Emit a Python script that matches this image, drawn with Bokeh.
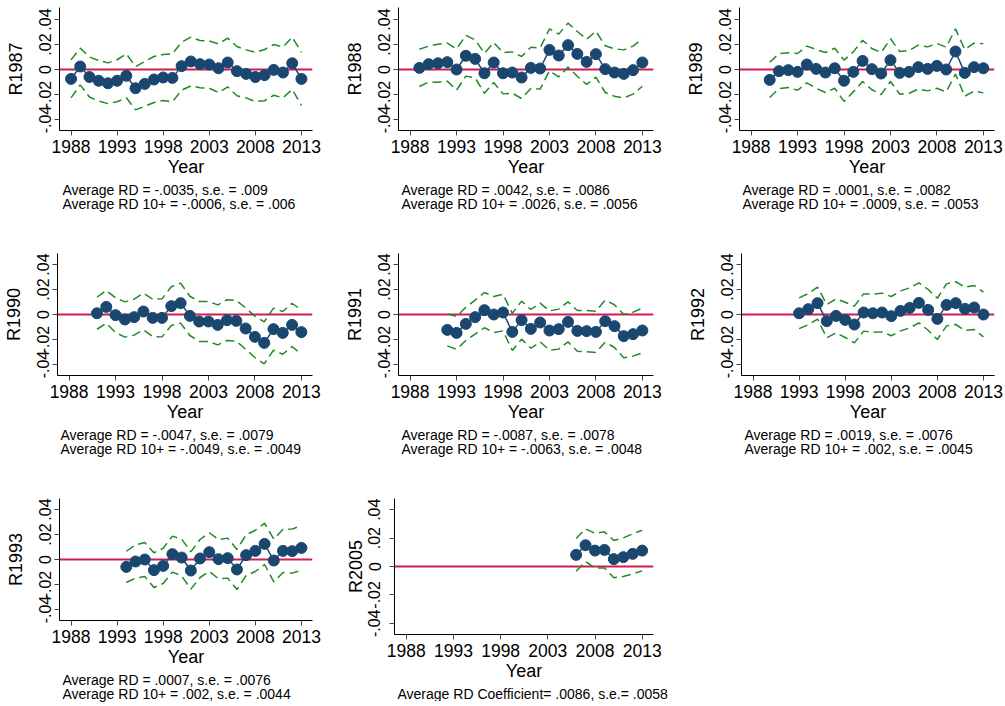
from bokeh.plotting import figure
from bokeh.models import Range1d, FixedTicker, Span, Title, Spacer
from bokeh.layouts import row, column
from bokeh.embed import file_html
from bokeh.resources import INLINE

# ---------------- data ----------------
x_ticks = [1988, 1993, 1998, 2003, 2008, 2013]
y_ticks = [-0.04, -0.02, 0.0, 0.02, 0.04]
y_tick_labels = {-0.04: "-.04", -0.02: "-.02", 0: "0", 0.02: ".02", 0.04: ".04"}

cohort_names = ["R1987", "R1988", "R1989", "R1990", "R1991", "R1992", "R1993", "R2005"]
first_years = [1988, 1989, 1990, 1991, 1992, 1993, 1994, 2006]

coef_r1987 = [-0.0075, 0.0024, -0.006, -0.009, -0.011, -0.009, -0.005, -0.015, -0.0115, -0.008,
              -0.0064, -0.0067, 0.0027, 0.0064, 0.0043, 0.004, 0.001, 0.0056, -0.0013, -0.0035,
              -0.006, -0.0045, -0.0003, -0.0024, 0.005, -0.0075]
ci_r1987 = [0.0152, 0.0147, 0.016, 0.0163, 0.0163, 0.0168, 0.0176, 0.0173, 0.0179, 0.0184,
            0.0184, 0.0192, 0.0192, 0.0195, 0.0189, 0.0189, 0.0195, 0.0195, 0.0197, 0.0192,
            0.0197, 0.0205, 0.0203, 0.0203, 0.0208, 0.0213]

coef_r1988 = [0.0013, 0.0043, 0.005, 0.0059, 0.0, 0.011, 0.0085, -0.003, 0.0056, -0.003,
              -0.0024, -0.0064, 0.0013, 0.0008, 0.0157, 0.0112, 0.0195, 0.0125, 0.0061, 0.0123,
              0.0003, -0.0024, -0.0035, -0.0005, 0.0056]
ci_r1988 = [0.0149, 0.0144, 0.0152, 0.0152, 0.0165, 0.0163, 0.0152, 0.016, 0.016, 0.0165,
            0.0165, 0.0168, 0.0165, 0.0165, 0.0168, 0.0171, 0.0176, 0.0179, 0.0181, 0.0184,
            0.0187, 0.019, 0.0192, 0.0192, 0.019]

coef_r1989 = [-0.0083, -0.0013, -0.0005, -0.0019, 0.004, 0.0005, -0.0024, 0.001, -0.009, -0.0019,
              0.0069, 0.0003, -0.0032, 0.0075, -0.0027, -0.0019, 0.0019, 0.0005, 0.0029, 0.0,
              0.0144, -0.0027, 0.0019, 0.001]
ci_r1989 = [0.0141, 0.0139, 0.0139, 0.0147, 0.0147, 0.0155, 0.016, 0.016, 0.0165, 0.016,
            0.0165, 0.0165, 0.0168, 0.0171, 0.0171, 0.0171, 0.0176, 0.0176, 0.0179, 0.0179,
            0.0181, 0.0187, 0.0192, 0.0197]

coef_r1990 = [0.001, 0.0061, -0.0005, -0.004, -0.0021, 0.0024, -0.0027, -0.0027, 0.0067, 0.0091,
              -0.0011, -0.0056, -0.0056, -0.0083, -0.0045, -0.0051, -0.0112, -0.0179, -0.0227, -0.0117,
              -0.0147, -0.0083, -0.0141]
ci_r1990 = [0.0128, 0.0131, 0.0139, 0.0141, 0.0144, 0.0147, 0.0149, 0.0152, 0.0155, 0.016,
            0.0157, 0.016, 0.016, 0.016, 0.0163, 0.0163, 0.0165, 0.0165, 0.0168, 0.0168,
            0.0171, 0.0173, 0.0176]

coef_r1991 = [-0.0123, -0.0147, -0.0075, -0.0021, 0.0035, 0.0, 0.0016, -0.0139, -0.0045, -0.0115,
              -0.0064, -0.0128, -0.0117, -0.0059, -0.0131, -0.0133, -0.0139, -0.0053, -0.0093, -0.0173,
              -0.0157, -0.0128]
ci_r1991 = [0.0128, 0.0131, 0.0133, 0.0136, 0.0141, 0.0144, 0.0147, 0.0149, 0.0152, 0.0155,
            0.0155, 0.0157, 0.016, 0.016, 0.0163, 0.0165, 0.0165, 0.0168, 0.0171, 0.0173,
            0.0176, 0.0179]

coef_r1992 = [0.001, 0.0043, 0.0091, -0.0053, -0.0011, -0.0043, -0.008, 0.0016, 0.001, 0.0016,
              -0.0013, 0.0029, 0.0053, 0.0093, 0.0037, -0.0035, 0.0077, 0.0091, 0.0045, 0.0056,
              0.0]
ci_r1992 = [0.0123, 0.0125, 0.0128, 0.0133, 0.0136, 0.0141, 0.0147, 0.0149, 0.0152, 0.0155,
            0.0157, 0.016, 0.016, 0.016, 0.0163, 0.0165, 0.0168, 0.0171, 0.0173, 0.0176,
            0.0179]

coef_r1993 = [-0.0059, -0.0016, 0.0, -0.0085, -0.0051, 0.0043, 0.0016, -0.0088, 0.0008, 0.0059,
              0.0003, 0.0011, -0.008, 0.0035, 0.0069, 0.0125, -0.0008, 0.0069, 0.0067, 0.0093]
ci_r1993 = [0.0125, 0.0133, 0.0136, 0.0139, 0.0141, 0.0144, 0.0147, 0.0149, 0.0152, 0.0155,
            0.0157, 0.016, 0.016, 0.0163, 0.0165, 0.0165, 0.0171, 0.0173, 0.0176, 0.0179]

coef_r2005 = [0.0082, 0.015, 0.0112, 0.0117, 0.0052, 0.0066, 0.0089, 0.0112]
ci_r2005 = [0.0115, 0.0115, 0.0122, 0.0127, 0.0131, 0.0136, 0.0141, 0.0143]

notes = [
    "Average RD = -.0035, s.e. = .009\nAverage RD 10+ = -.0006, s.e. = .006",
    "Average RD = .0042, s.e. = .0086\nAverage RD 10+ = .0026, s.e. = .0056",
    "Average RD = .0001, s.e. = .0082\nAverage RD 10+ = .0009, s.e. = .0053",
    "Average RD = -.0047, s.e. = .0079\nAverage RD 10+ = -.0049, s.e. = .0049",
    "Average RD = -.0087, s.e. = .0078\nAverage RD 10+ = -.0063, s.e. = .0048",
    "Average RD = .0019, s.e. = .0076\nAverage RD 10+ = .002, s.e. = .0045",
    "Average RD = .0007, s.e. = .0076\nAverage RD 10+ = .002, s.e. = .0044",
    "Average RD Coefficient= .0086, s.e.= .0058",
]

coefs = [coef_r1987, coef_r1988, coef_r1989, coef_r1990, coef_r1991, coef_r1992, coef_r1993, coef_r2005]
cis = [ci_r1987, ci_r1988, ci_r1989, ci_r1990, ci_r1991, ci_r1992, ci_r1993, ci_r2005]

# ---------------- style / layout ----------------
FONT = "Liberation Sans"
NAVY = "#1a476f"
GREEN = "#1f8b24"
RED = "#d01c50"

# (fig w, fig h, border left, border top, frame w, frame h, y min, y max, tick-label standoff, axis-label standoff)
geo = [
    (335, 240, 59, 7, 253, 123, -0.0488, 0.0496, 4, 10),
    (335, 240, 63, 7, 255, 123, -0.0488, 0.0496, 4, 10),
    (333, 240, 69, 7, 255, 123, -0.0488, 0.0496, 4, 10),
    (335, 240, 57, 13, 255, 122, -0.0488, 0.0488, 4, 10),
    (335, 240, 63, 13, 255, 122, -0.0488, 0.0488, 4, 10),
    (333, 240, 71, 13, 253, 122, -0.0488, 0.0488, 4, 10),
    (335, 224, 59, 18, 253, 122, -0.0488, 0.0488, 4, 10),
    (335, None, 59, 18, 259, 136, -0.0479, 0.0479, 9, 0),
]


def make_panel(i):
    W, H, bl, bt, fw, fh, ymin, ymax, tstand, lstand = geo[i]
    y0 = first_years[i]
    yrs = list(range(y0, y0 + len(coefs[i])))
    hi = [c + h for c, h in zip(coefs[i], cis[i])]
    lo = [c - h for c, h in zip(coefs[i], cis[i])]
    common = dict(output_backend="svg", toolbar_location=None,
                  x_range=Range1d(1986.75, 2014.2), y_range=Range1d(ymin, ymax),
                  min_border_left=bl, min_border_top=bt, min_border_right=W - bl - fw)
    if H is None:
        p = figure(frame_width=fw, frame_height=fh, min_border_bottom=0, **common)
    else:
        p = figure(width=W, height=H, min_border_bottom=H - bt - fh, **common)
    p.outline_line_color = None
    p.xgrid.visible = False
    p.ygrid.visible = False
    p.background_fill_color = "white"
    p.border_fill_color = "white"

    p.add_layout(Span(location=0, dimension="width", line_color=RED, line_width=2, level="underlay"))
    p.line(yrs, hi, line_color=GREEN, line_width=1.5, line_dash="9 5")
    p.line(yrs, lo, line_color=GREEN, line_width=1.5, line_dash="9 5")
    p.line(yrs, coefs[i], line_color=NAVY, line_width=1.5)
    p.scatter(yrs, coefs[i], size=11, fill_color=NAVY, line_color=NAVY)

    for ax in (p.xaxis[0], p.yaxis[0]):
        ax.axis_line_color = "black"
        ax.axis_line_width = 1
        ax.major_tick_in = 0
        ax.major_tick_out = 5
        ax.major_tick_line_color = "#444444"
        ax.minor_tick_line_color = None
        ax.major_label_text_font = FONT
        ax.major_label_text_color = "black"
        ax.axis_label_text_font = FONT
        ax.axis_label_text_font_style = "normal"
        ax.axis_label_text_color = "black"
        ax.axis_label_text_font_size = "18px"

    p.xaxis.ticker = FixedTicker(ticks=x_ticks)
    p.xaxis.major_label_text_font_size = "17.5px"
    p.xaxis.major_label_standoff = 4
    p.xaxis.axis_label = "Year"
    p.xaxis.axis_label_standoff = 1

    p.yaxis.ticker = FixedTicker(ticks=y_ticks)
    p.yaxis.major_label_overrides = y_tick_labels
    p.yaxis.major_label_orientation = "vertical"
    p.yaxis.major_label_text_font_size = "16px"
    p.yaxis.major_label_standoff = tstand
    p.yaxis.axis_label = cohort_names[i]
    p.yaxis.axis_label_standoff = lstand

    t = Title(text=notes[i], align="left", offset=3, text_font=FONT, text_font_size="14px",
              text_font_style="normal", text_color="black", text_line_height=0.89,
              standoff=2 if H is not None else 0)
    p.add_layout(t, "below")
    return p


panels = [make_panel(i) for i in range(8)]
layout = column(
    row(panels[0], panels[1], panels[2]),
    row(panels[3], panels[4], panels[5]),
    row(panels[6], panels[7], Spacer(width=333, height=224)),
)

open("out.html", "w").write(file_html(layout, INLINE))
